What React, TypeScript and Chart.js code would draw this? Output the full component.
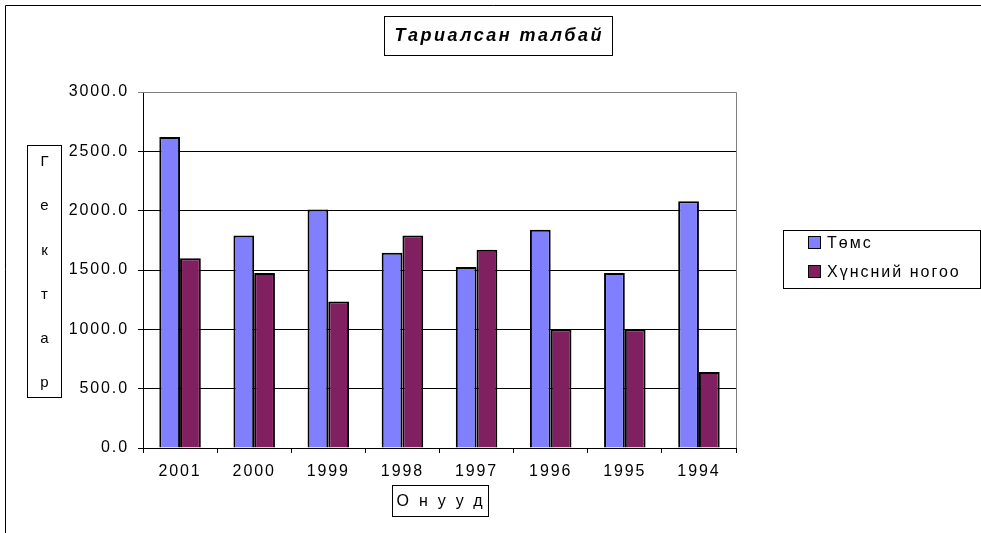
import React, { useEffect, useRef } from 'react';
import { Chart, registerables } from 'chart.js';

Chart.register(...registerables);

const years = ['2001', '2000', '1999', '1998', '1997', '1996', '1995', '1994'];
const potato = [2620, 1790, 2010, 1645, 1525, 1840, 1475, 2080];
const vegetables = [1600, 1475, 1235, 1790, 1670, 1000, 1000, 640];
const seriesNames = ['Төмс', 'Хүнсний ногоо'];
const seriesColors = ['#8080FF', '#802060'];
const chartTitle = 'Тариалсан талбай';
const yTitle = 'Гектар';
const xTitle = 'Онууд';
const yTicks = [0, 500, 1000, 1500, 2000, 2500, 3000];

const FONT = '"Liberation Sans", Arial, sans-serif';
const SPACING = 1.9;

const decor = {
  id: 'decor',
  beforeDraw(chart: any) {
    const ctx = chart.ctx;
    ctx.save();
    ctx.fillStyle = '#ffffff';
    ctx.fillRect(0, 0, chart.width, chart.height);
    ctx.restore();
    ctx.letterSpacing = SPACING + 'px';
  },
  afterDraw(chart: any) {
    const ctx = chart.ctx;
    const a = chart.chartArea;
    ctx.save();
    ctx.lineWidth = 1;
    // outer chart border
    ctx.strokeStyle = '#000';
    ctx.beginPath();
    ctx.moveTo(5.5, chart.height + 5);
    ctx.lineTo(5.5, 5.5);
    ctx.lineTo(chart.width + 5, 5.5);
    ctx.stroke();
    // plot area border (top/right)
    ctx.strokeStyle = '#808080';
    ctx.beginPath();
    ctx.moveTo(a.left, Math.round(a.top) + 0.5);
    ctx.lineTo(Math.round(a.right) + 0.5, Math.round(a.top) + 0.5);
    ctx.lineTo(Math.round(a.right) + 0.5, a.bottom);
    ctx.stroke();

    // title box
    ctx.strokeStyle = '#000';
    ctx.fillStyle = '#fff';
    ctx.fillRect(384.5, 16.5, 228, 39);
    ctx.strokeRect(384.5, 16.5, 228, 39);
    ctx.fillStyle = '#000';
    ctx.font = `italic bold 18px ${FONT}`;
    ctx.letterSpacing = '2.5px';
    ctx.textAlign = 'center';
    ctx.textBaseline = 'middle';
    ctx.fillText(chartTitle, 498 + 1.25, 36.5);

    // y axis title box
    ctx.strokeRect(27.5, 145.5, 34, 252);
    ctx.font = `15px ${FONT}`;
    ctx.letterSpacing = '0px';
    const letters = Array.from(yTitle);
    letters.forEach((ch, i) => {
      ctx.fillText(ch, 44.5, 162 + i * 44.2);
    });

    // x axis title box
    ctx.fillStyle = '#fff';
    ctx.fillRect(392.5, 485.5, 96, 31);
    ctx.strokeRect(392.5, 485.5, 96, 31);
    ctx.fillStyle = '#000';
    ctx.font = `16px ${FONT}`;
    ctx.letterSpacing = '10px';
    ctx.fillText(xTitle, 439.5 + 5, 502);

    // legend box
    ctx.strokeRect(783.5, 230.5, 197, 58);
    ctx.font = `16px ${FONT}`;
    ctx.letterSpacing = '2px';
    ctx.textAlign = 'left';
    const ys = [243, 272];
    chart.data.datasets.forEach((ds: any, i: number) => {
      const y = ys[i];
      ctx.fillStyle = ds.backgroundColor;
      ctx.fillRect(808.5, y - 6.5, 12, 12);
      ctx.strokeStyle = '#000';
      ctx.strokeRect(808.5, y - 6.5, 12, 12);
      ctx.fillStyle = '#000';
      ctx.fillText(ds.label, 827, y + 0.5);
    });
    ctx.restore();
  },
};

export default function App() {
  const ref = useRef<HTMLCanvasElement | null>(null);
  useEffect(() => {
    if (!ref.current) return;
    const chart = new Chart(ref.current, {
      type: 'bar',
      data: {
        labels: years,
        datasets: [
          {
            label: seriesNames[0],
            data: potato,
            backgroundColor: seriesColors[0],
            borderColor: '#000',
            borderWidth: 2,
          },
          {
            label: seriesNames[1],
            data: vegetables,
            backgroundColor: seriesColors[1],
            borderColor: '#000',
            borderWidth: 2,
          },
        ],
      },
      options: {
        responsive: false,
        animation: false,
        devicePixelRatio: 1,
        layout: { padding: { left: 0, top: 92, right: 245, bottom: 0 } },
        datasets: { bar: { categoryPercentage: 0.56, barPercentage: 1 } },
        plugins: {
          legend: { display: false },
          title: { display: false },
          tooltip: { enabled: false },
        },
        scales: {
          x: {
            afterFit: (s: any) => {
              s.height = 85;
            },
            grid: {
              offset: true,
              drawOnChartArea: false,
              tickLength: 5,
              color: '#000',
            },
            border: { color: '#000', width: 1 },
            ticks: {
              color: '#000',
              font: { family: FONT, size: 16 },
              padding: 9,
              maxRotation: 0,
            },
          },
          y: {
            min: 0,
            max: 3000,
            afterFit: (s: any) => {
              s.width = 143;
            },
            afterBuildTicks: (s: any) => {
              s.ticks = yTicks.map((v) => ({ value: v }));
            },
            grid: {
              tickLength: 5,
              color: (c: any) => (c.tick && c.tick.value === 3000 ? '#808080' : '#000'),
            },
            border: { color: '#000', width: 1 },
            ticks: {
              color: '#000',
              font: { family: FONT, size: 16 },
              padding: 9,
              callback: (v: any) => Number(v).toFixed(1),
            },
          },
        },
      },
      plugins: [decor],
    });
    return () => chart.destroy();
  }, []);
  return (
    <div style={{ position: 'fixed', left: 0, top: 0, width: 981, height: 533, background: '#fff' }}>
      <canvas ref={ref} width={981} height={533} style={{ display: 'block' }} />
    </div>
  );
}
